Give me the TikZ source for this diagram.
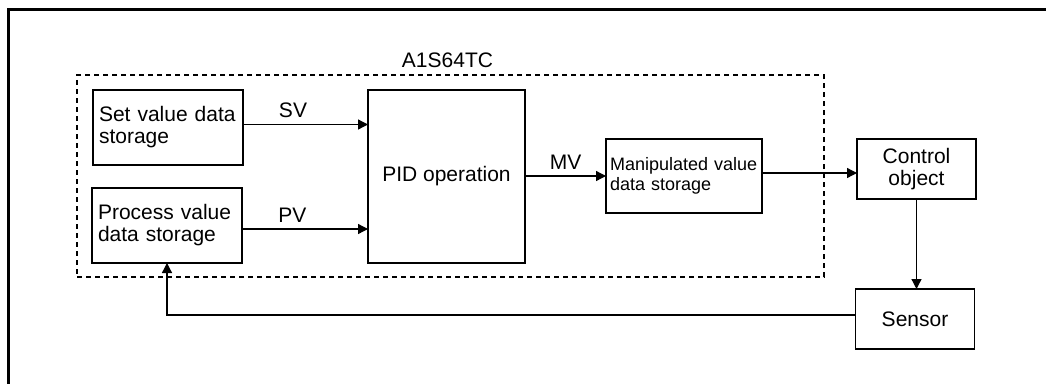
\documentclass[tikz,border=0pt]{standalone}
\usepackage{fontspec}
\setmainfont{Liberation Sans}
\usepackage{tikz}
\usetikzlibrary{arrows.meta}
\newcommand{\blockline}{1.3pt}
\newcommand{\blockfont}{\fontsize{21}{22}\selectfont}
\newcommand{\smallblockfont}{\fontsize{18}{20}\selectfont}
\tikzstyle{block}=[draw, line width=\blockline, inner sep=0, outer sep=0, font=\blockfont]
\tikzstyle{store}=[block, minimum width=150pt, minimum height=75pt, text width=138pt, align=left]
\tikzstyle{plant}=[block, minimum width=119pt, minimum height=60pt, align=center]
\tikzstyle{signal}=[line width=\blockline, -{Triangle[length=10pt, width=10pt]}]
\tikzstyle{tag}=[font=\blockfont, inner sep=0, above=6pt]
\tikzstyle{controlloop}=[x=1pt, y=-1pt,
                         % Labels sit right on their box.
                         every label/.style={font=\blockfont, inner sep=0}]

\begin{document}
\begin{tikzpicture}[controlloop]
    \useasboundingbox (0, 0) rectangle (1046, 383);
    % Sheet border, cut off by the page.
    \draw[line width=3pt] (8, 400) -- (8, 9) -- (1060, 9);
    \node[draw, line width=\blockline, dash pattern=on 5pt off 4pt, minimum width=747pt, minimum height=202pt,
          outer sep=0, label={[label distance=7pt, xshift=-3pt]above:A1S64TC}] (unit) at (450.5, 176) {};
    \node[store] (SVstore) at (168, 127.5) {Set value data\\storage};
    \node[store] (PVstore) at (167, 225.5) {Process value\\data storage};
    \node[block, minimum width=157pt, minimum height=173pt] (PID) at (446.5, 176.5) {PID operation};
    \node[block, minimum width=156pt, minimum height=74pt, text width=148pt, align=left,
          font=\smallblockfont] (MVstore) at (684, 176) {Manipulated value\\data storage};
    \node[plant] (object) at (916.5, 169) {Control\\object};
    \node[plant] (sensor) at (915, 319) {Sensor};
    \draw[signal] ([yshift=3pt]SVstore.east) -- ([yshift=3pt]SVstore.east -| PID.west) node[tag, pos=0.4] {SV};
    \draw[signal] ([yshift=-3.5pt]PVstore.east) -- ([yshift=-3.5pt]PVstore.east -| PID.west) node[tag, pos=0.4] {PV};
    \draw[signal] (PID.east |- MVstore.west) -- (MVstore.west) node[tag, midway] {MV};
    \draw[signal] ([yshift=3pt]MVstore.east) -- ([yshift=3pt]MVstore.east -| object.west);
    \draw[signal] (object.south) -- (object.south |- sensor.north);
    \draw[signal] ([yshift=4pt]sensor.west) -| (PVstore.south);
\end{tikzpicture}
\end{document}
